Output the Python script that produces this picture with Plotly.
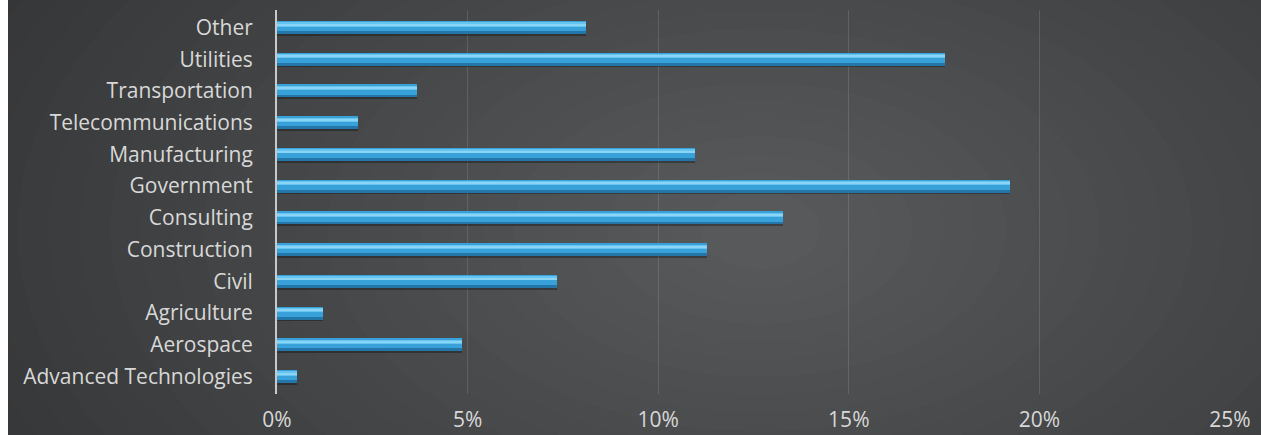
import plotly.graph_objects as go

categories = ["Advanced Technologies", "Aerospace", "Agriculture", "Civil", "Construction",
              "Consulting", "Government", "Manufacturing", "Telecommunications",
              "Transportation", "Utilities", "Other"]
shares = [0.0052, 0.0486, 0.0121, 0.0735, 0.1129, 0.1328, 0.1924, 0.1097, 0.0213,
          0.0367, 0.1753, 0.0811]
tick_vals = [0, 0.05, 0.10, 0.15, 0.20, 0.25]
tick_text = ["0%", "5%", "10%", "15%", "20%", "25%"]

OFFX = 8  # page left margin kept white
W, H = 1261 - OFFX, 435
L, R, T, B = 277 - OFFX, 31, 10, 41
pw, ph = W - L - R, H - T - B

def px2x(px):
    return (px - OFFX - L) / pw

def px2y(py):
    return 1 - (py - T) / ph

fig = go.Figure()

# bar layers for a tubular look
fig.add_trace(go.Bar(y=categories, x=shares, orientation="h", width=0.07, offset=-0.26,
                     marker=dict(color="rgba(0,0,0,0.30)", line=dict(width=0)), hoverinfo="skip"))
fig.add_trace(go.Bar(y=categories, x=shares, orientation="h", width=0.41, offset=-0.205,
                     marker=dict(color="#38a1da", line=dict(width=0))))
fig.add_trace(go.Bar(y=categories, x=shares, orientation="h", width=0.09, offset=-0.205,
                     marker=dict(color="#2475a8", line=dict(width=0)), hoverinfo="skip"))
fig.add_trace(go.Bar(y=categories, x=shares, orientation="h", width=0.13, offset=0.03,
                     marker=dict(color="#66c4f0", line=dict(width=0)), hoverinfo="skip"))
fig.add_trace(go.Bar(y=categories, x=shares, orientation="h", width=0.04, offset=0.07,
                     marker=dict(color="#8ad4f6", line=dict(width=0)), hoverinfo="skip"))

# radial-ish background gradient
shapes = []
cx, cy = 760, 230
n = 30
for i in range(n):
    f = i / (n - 1)
    rx = 900 * (1 - f) + 60
    ry = 520 * (1 - f) + 40
    v = int(50 + 38 * f)
    shapes.append(dict(type="circle", xref="paper", yref="paper", layer="below",
                       x0=px2x(cx - rx), x1=px2x(cx + rx), y0=px2y(cy + ry), y1=px2y(cy - ry),
                       fillcolor=f"rgb({v},{v+1},{v+2})", line=dict(width=0)))

fig.update_layout(
    width=W, height=H,
    margin=dict(l=L, r=R, t=T, b=B, pad=0, autoexpand=False),
    paper_bgcolor="#343536",
    plot_bgcolor="rgba(0,0,0,0)",
    barmode="overlay",
    bargap=0,
    showlegend=False,
    shapes=shapes,
    font=dict(family="Open Sans", size=21, color="#d8d8d8"),
    xaxis=dict(range=[0, 0.25], tickvals=tick_vals, ticktext=tick_text,
               showgrid=True, gridcolor="rgba(255,255,255,0.12)", gridwidth=1,
               zeroline=False, showline=False, ticks="", ticklabelstandoff=11,
               automargin=False,
               tickfont=dict(size=21, color="#d8d8d8"), fixedrange=True),
    yaxis=dict(showline=True, linecolor="#c9c9c9", linewidth=2, ticks="",
               ticklabelstandoff=18, showgrid=False, automargin=False,
               tickfont=dict(size=21, color="#d8d8d8"), range=[-0.55, 11.55]),
)

fig.write_html("out.html",
               post_script="document.body.style.margin='0px 0px 0px %dpx';"
                           "document.body.style.overflow='hidden';" % OFFX)
